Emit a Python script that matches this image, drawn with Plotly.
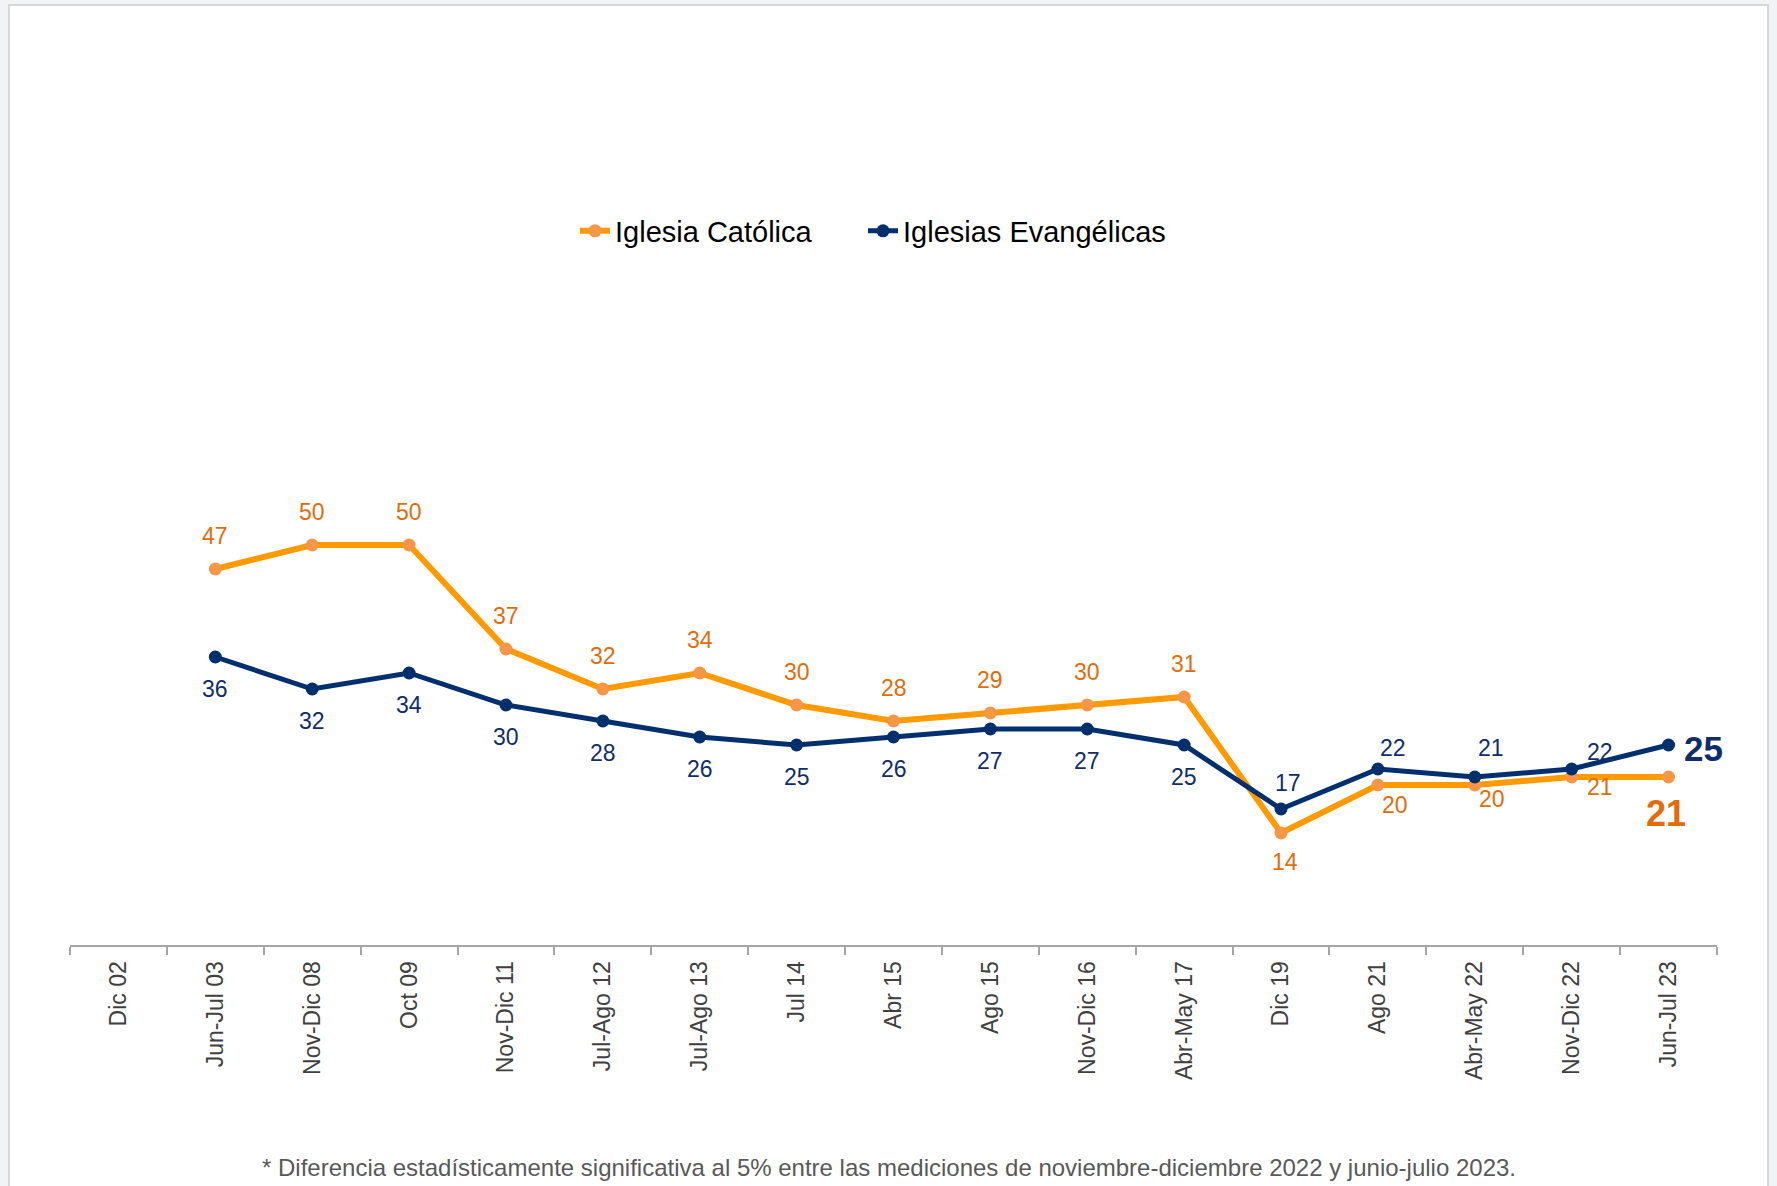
import plotly.graph_objects as go

categories = ["Dic 02", "Jun-Jul 03", "Nov-Dic 08", "Oct 09", "Nov-Dic 11", "Jul-Ago 12",
              "Jul-Ago 13", "Jul 14", "Abr 15", "Ago 15", "Nov-Dic 16", "Abr-May 17",
              "Dic 19", "Ago 21", "Abr-May 22", "Nov-Dic 22", "Jun-Jul 23"]
catolica = [None, 47, 50, 50, 37, 32, 34, 30, 28, 29, 30, 31, 14, 20, 20, 21, 21]
evangelicas = [None, 36, 32, 34, 30, 28, 26, 25, 26, 27, 27, 25, 17, 22, 21, 22, 25]

series_names = ["Iglesia Católica", "Iglesias Evangélicas"]
footnote = ("* Diferencia estadísticamente significativa al 5% entre las mediciones de "
            "noviembre-diciembre 2022 y junio-julio 2023.")

# label offsets (style only): (xshift, yshift) per point
cat_off = [None] + [(0, 33)] * 11 + [(4, -29), (17, -20), (17, -14), (28, -10), (-3, -36)]
eva_off = [None] + [(0, -32)] * 11 + [(7, 26), (15, 21), (16, 29), (28, 17), (35, -3)]

ORANGE_LINE = "#FF9A00"
ORANGE_MARK = "#F79646"
ORANGE_TEXT = "#E36C09"
NAVY = "#002F6E"
NAVY_TEXT = "#0F2D6B"
FONT = "Liberation Sans, Arial"

W, H = 1777, 1186
L, R, T, B = 70, 60, 145, 241
pw, ph = W - L - R, H - T - B

fig = go.Figure()
fig.add_trace(go.Scatter(
    x=categories, y=catolica, name=series_names[0], mode="lines+markers",
    line=dict(color=ORANGE_LINE, width=6),
    marker=dict(color=ORANGE_MARK, size=13), legend="legend",
))
fig.add_trace(go.Scatter(
    x=categories, y=evangelicas, name=series_names[1], mode="lines+markers",
    line=dict(color=NAVY, width=5),
    marker=dict(color=NAVY, size=13), legend="legend2",
))

last = len(categories) - 1
for i, (c, v) in enumerate(zip(categories, catolica)):
    if v is None:
        continue
    xs, ys = cat_off[i]
    big = i == last
    fig.add_annotation(x=c, y=v, text=str(v), showarrow=False, xshift=xs, yshift=ys,
                       font=dict(family=FONT, size=36 if big else 23,
                                 color=ORANGE_TEXT, weight="bold" if big else "normal"))
for i, (c, v) in enumerate(zip(categories, evangelicas)):
    if v is None:
        continue
    xs, ys = eva_off[i]
    big = i == last
    fig.add_annotation(x=c, y=v, text=str(v), showarrow=False, xshift=xs, yshift=ys,
                       font=dict(family=FONT, size=35 if big else 23,
                                 color=NAVY_TEXT, weight="bold" if big else "normal"))

fig.add_annotation(x=(889 - L) / pw, y=(H - B - 1167) / ph, xref="paper", yref="paper",
                   xanchor="center", yanchor="middle",
                   text=footnote, showarrow=False,
                   font=dict(family=FONT, size=24, color="#595959"))

# white panel with border
fig.add_shape(type="rect", xref="paper", yref="paper", layer="below",
              x0=(9 - L) / pw, x1=(1768 - L) / pw,
              y0=(H - B - 1200) / ph, y1=(H - B - 5) / ph,
              fillcolor="white", line=dict(color="#D5D7DA", width=2))

leg_common = dict(orientation="h", yanchor="middle", xanchor="left",
                  y=(H - B - 231) / ph, font=dict(size=29, color="#000000"),
                  bgcolor="rgba(0,0,0,0)")

fig.update_layout(
    width=W, height=H,
    margin=dict(l=L, r=R, t=T, b=B),
    paper_bgcolor="#F2F3F5",
    plot_bgcolor="rgba(0,0,0,0)",
    font=dict(family=FONT, color="#000000"),
    showlegend=True,
    legend=dict(x=(575 - L) / pw, **leg_common),
    legend2=dict(x=(863 - L) / pw, **leg_common),
    xaxis=dict(type="category", range=[-0.5, len(categories) - 0.5],
               showline=True, linecolor="#A6A6A6", linewidth=2,
               ticks="outside", tickson="boundaries", ticklen=8,
               tickcolor="#A6A6A6", tickwidth=2, ticklabelstandoff=5,
               tickangle=-90, showgrid=False, zeroline=False,
               tickfont=dict(size=23, color="#404040")),
    yaxis=dict(range=[0, 100], visible=False, showgrid=False, zeroline=False),
)

fig.write_html(
    "out.html",
    config={"displayModeBar": False},
    post_script="document.body.style.margin='0';document.body.style.overflow='hidden';"
                "document.body.style.background='#F2F3F5';",
)
